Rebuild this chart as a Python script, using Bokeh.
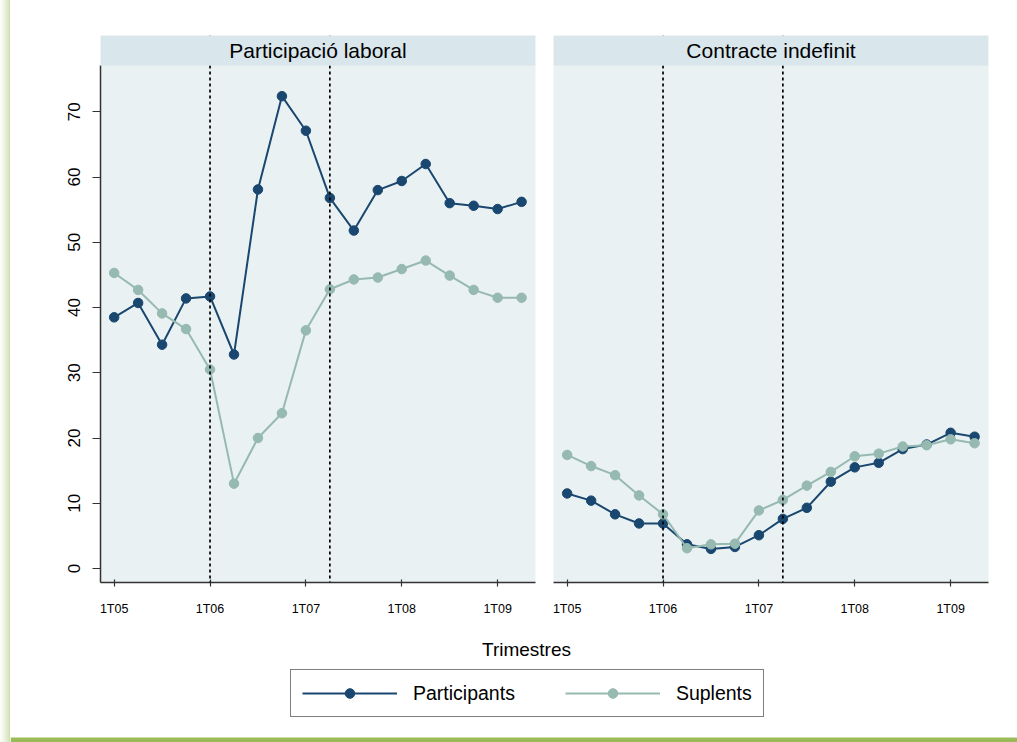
from bokeh.plotting import figure
from bokeh.models import (Range1d, Span, BoxAnnotation, Label, Legend, LegendItem,
                          FixedTicker, Div)
from bokeh.layouts import column, row
from bokeh.embed import file_html
from bokeh.resources import INLINE

# ---------------- data ----------------
quarters = ["1T05", "2T05", "3T05", "4T05", "1T06", "2T06", "3T06", "4T06",
            "1T07", "2T07", "3T07", "4T07", "1T08", "2T08", "3T08", "4T08",
            "1T09", "2T09"]
tick_labels = ["1T05", "1T06", "1T07", "1T08", "1T09"]
y_ticks = [0, 10, 20, 30, 40, 50, 60, 70]
vline_quarters = ["1T06", "2T07"]

panel_titles = ["Participació laboral", "Contracte indefinit"]
series_names = ["Participants", "Suplents"]

participants_laboral = [38.5, 40.7, 34.3, 41.4, 41.7, 32.8, 58.1, 72.4, 67.1, 56.8,
                        51.8, 58.0, 59.4, 62.0, 56.0, 55.6, 55.1, 56.2]
suplents_laboral = [45.3, 42.7, 39.1, 36.7, 30.5, 13.0, 20.0, 23.8, 36.5, 42.8,
                    44.3, 44.6, 45.9, 47.2, 44.9, 42.7, 41.5, 41.5]
participants_indefinit = [11.5, 10.4, 8.3, 6.9, 6.9, 3.7, 3.0, 3.3, 5.1, 7.6,
                          9.3, 13.3, 15.5, 16.2, 18.3, 19.0, 20.8, 20.2]
suplents_indefinit = [17.4, 15.7, 14.3, 11.2, 8.3, 3.1, 3.7, 3.8, 8.9, 10.5,
                      12.7, 14.8, 17.2, 17.6, 18.7, 18.9, 19.8, 19.2]

# ---------------- style ----------------
NAVY = "#1a476f"
SAGE = "#96b9b0"
BG_PLOT = "#e9f1f3"
BG_STRIP = "#d9e6ec"
AXIS = "#333333"
GREEN = "#9bbb59"
FONT = "Liberation Sans"

XMIN, XMAX = -0.57, 17.58
YMIN, YPLOT_TOP, YTOP = -2.15, 77.1, 81.7

xs = list(range(len(quarters)))
tick_pos = [quarters.index(q) for q in tick_labels]
vline_pos = [quarters.index(q) for q in vline_quarters]


def make_panel(title, part, supl, first, width, bl, br):
    p = figure(width=width, height=625, x_range=Range1d(XMIN, XMAX),
               y_range=Range1d(YMIN, YTOP), output_backend="svg",
               toolbar_location=None, title=None,
               y_axis_location="left" if first else None,
               min_border_left=bl, min_border_right=br,
               min_border_top=35, min_border_bottom=43,
               background_fill_color=BG_PLOT, border_fill_color="white",
               outline_line_color=None)
    p.grid.visible = False

    xa = p.xaxis[0]
    xa.ticker = FixedTicker(ticks=tick_pos)
    xa.major_label_overrides = {pos: lab for pos, lab in zip(tick_pos, tick_labels)}
    xa.axis_line_color = AXIS
    xa.axis_line_width = 1.5
    xa.major_tick_line_color = AXIS
    xa.major_tick_line_width = 1.2
    xa.major_tick_in = 3
    xa.major_tick_out = 4
    xa.minor_tick_line_color = None
    xa.major_label_text_font = FONT
    xa.major_label_text_font_size = "12.5px"
    xa.major_label_text_color = "black"
    xa.major_label_standoff = 15

    if first:
        ya = p.yaxis[0]
        ya.ticker = FixedTicker(ticks=y_ticks)
        ya.bounds = (YMIN, YPLOT_TOP)
        ya.axis_line_color = AXIS
        ya.axis_line_width = 1.5
        ya.major_tick_line_color = AXIS
        ya.major_tick_line_width = 1.2
        ya.major_tick_in = 0
        ya.major_tick_out = 8
        ya.minor_tick_line_color = None
        ya.major_label_orientation = "vertical"
        ya.major_label_text_font = FONT
        ya.major_label_text_font_size = "17px"
        ya.major_label_text_color = "black"
        ya.major_label_standoff = 12

    for v in vline_pos:
        p.add_layout(Span(location=v, dimension="height", line_color="black",
                          line_width=1.7, line_dash="3 3"))

    p.line(xs, part, line_color=NAVY, line_width=2)
    p.scatter(xs, part, size=9.5, fill_color=NAVY, line_color=NAVY)
    p.line(xs, supl, line_color=SAGE, line_width=2)
    p.scatter(xs, supl, size=9.5, fill_color=SAGE, line_color=SAGE)

    p.add_layout(BoxAnnotation(bottom=YPLOT_TOP, fill_color=BG_STRIP, fill_alpha=1,
                               line_color=None))
    p.add_layout(Label(x=(XMIN + XMAX) / 2, y=(YPLOT_TOP + YTOP) / 2, text=title,
                       text_align="center", text_baseline="middle",
                       text_font=FONT, text_font_size="21px", text_color="black"))
    return p


left = make_panel(panel_titles[0], participants_laboral, suplents_laboral, True, 534, 90, 9)
right = make_panel(panel_titles[1], participants_indefinit, suplents_indefinit, False, 473, 9, 29)

# bottom: axis title + legend
BW, BH = 1007, 117
b = figure(width=BW, height=BH, x_range=Range1d(0, BW), y_range=Range1d(0, BH),
           output_backend="svg", toolbar_location=None, title=None,
           x_axis_location=None, y_axis_location=None, min_border=0,
           outline_line_color=None, background_fill_color="white",
           border_fill_color="white")
b.grid.visible = False
# legend proxies (kept outside the visible range)
off = [-100]
lp = b.line(x=off, y=off, line_color=NAVY, line_width=2)
sp = b.scatter(x=off, y=off, size=9.5, fill_color=NAVY, line_color=NAVY)
ls = b.line(x=off, y=off, line_color=SAGE, line_width=2)
ss = b.scatter(x=off, y=off, size=9.5, fill_color=SAGE, line_color=SAGE)

legend = Legend(items=[LegendItem(label=series_names[0], renderers=[lp, sp]),
                       LegendItem(label=series_names[1], renderers=[ls, ss])],
                orientation="horizontal", location=(280, 25),
                border_line_color="black", border_line_width=1,
                background_fill_color="white", background_fill_alpha=1,
                label_text_font=FONT, label_text_font_size="19.5px",
                label_text_color="black",
                glyph_width=95, glyph_height=24, label_height=24,
                label_standoff=16, spacing=50, padding=11, margin=0)
b.add_layout(legend)
b.add_layout(Label(x=516, y=93, x_units="screen", y_units="screen", text="Trimestres",
                   text_align="center", text_baseline="middle", text_font=FONT,
                   text_font_size="19px", text_color="black"))
b.add_layout(BoxAnnotation(top=5, fill_color=GREEN, fill_alpha=1, line_color=None))

shadow = Div(text="", width=10, height=742, margin=0,
             styles={"background": "linear-gradient(to right, #ffffff 0%, #e6eed6 60%, #cfdfae 100%)"})

layout = row(shadow, column(row(left, right, spacing=0), b, spacing=0), spacing=0)

with open("out.html", "w") as f:
    f.write(file_html(layout, INLINE))
